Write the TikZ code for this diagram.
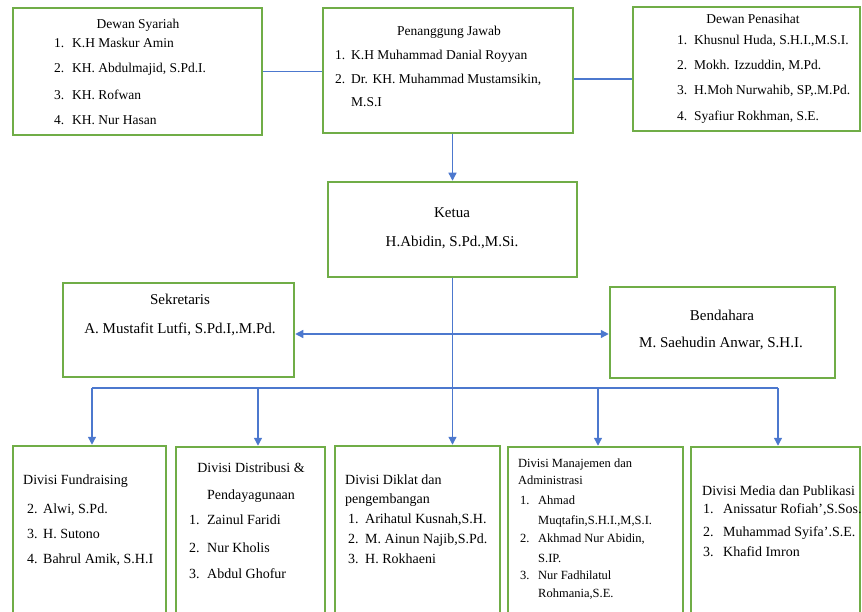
\documentclass[tikz,border=0pt]{standalone}
\usepackage{fontspec}
\setmainfont{Liberation Serif}
\usetikzlibrary{arrows.meta}
\definecolor{boxgreen}{RGB}{112,173,71}
\definecolor{lineblue}{RGB}{76,120,206}
\tikzstyle{box}=[draw=boxgreen, line width=2.5pt, inner sep=0pt]
\tikzstyle{conn}=[draw=lineblue, line width=1.3pt]
\tikzstyle{arr}=[conn, -{Triangle[length=8pt,width=8pt]}]
\tikzstyle{txt}=[inner sep=0pt, anchor=base west, font=\fontsize{14}{17}\selectfont]
\tikzstyle{toptxt}=[txt, font=\fontsize{13.5}{16}\selectfont]
\tikzstyle{bigtxt}=[txt, anchor=base, font=\fontsize{15}{18}\selectfont]
\tikzstyle{smalltxt}=[txt, font=\fontsize{12.5}{15}\selectfont]
\newcommand{\nitem}[3]{\makebox[#1][l]{#2}#3}

\begin{document}
\begin{tikzpicture}[x=1pt, y=-1pt]
            \useasboundingbox (0,0) rectangle (862,612);
            \clip (0,0) rectangle (862,612);

            \node[box, minimum width=249pt, minimum height=127pt] (syariah) at (137.5,71.5) {};
            \node[box, minimum width=250pt, minimum height=125pt] (pj) at (448,70.5) {};
            \node[box, minimum width=227pt, minimum height=124pt] (penasihat) at (746.5,69) {};
            \node[box, minimum width=249pt, minimum height=95pt] (ketua) at (452.5,229.5) {};
            \node[box, minimum width=231pt, minimum height=94pt] (sekretaris) at (178.5,330) {};
            \node[box, minimum width=225pt, minimum height=91pt] (bendahara) at (722.5,332.5) {};
            \node[box, minimum width=153pt, minimum height=179pt] (fundraising) at (89.5,535.5) {};
            \node[box, minimum width=149pt, minimum height=178pt] (distribusi) at (250.5,536) {};
            \node[box, minimum width=165pt, minimum height=179pt] (diklat) at (417.5,535.5) {};
            \node[box, minimum width=175pt, minimum height=178pt] (manajemen) at (595.5,536) {};
            \node[box, minimum width=169pt, minimum height=178pt] (media) at (775.5,536) {};

            \node[toptxt, anchor=base] (sy0) at (138,29) {Dewan Syariah};
            \node[toptxt] (sy1) at (54,48) {\nitem{18pt}{1.}{K.H Maskur Amin}};
            \node[toptxt] (sy2) at (54,73) {\nitem{18pt}{2.}{KH. Abdulmajid, S.Pd.I.}};
            \node[toptxt] (sy3) at (54,100) {\nitem{18pt}{3.}{KH. Rofwan}};
            \node[toptxt] (sy4) at (54,125) {\nitem{18pt}{4.}{KH. Nur Hasan}};

            \node[toptxt, anchor=base] (pj0) at (449,36) {Penanggung Jawab};
            \node[toptxt] (pj1) at (335,60) {\nitem{16pt}{1.}{K.H Muhammad Danial Royyan}};
            \node[toptxt] (pj2) at (335,84) {\nitem{16pt}{2.}{Dr. KH. Muhammad Mustamsikin,}};
            \node[toptxt] (pj3) at (351,107) {M.S.I};

            \node[toptxt, anchor=base] (pn0) at (753,24) {Dewan Penasihat};
            \node[toptxt] (pn1) at (677,45) {\nitem{17pt}{1.}{Khusnul Huda, S.H.I.,M.S.I.}};
            \node[toptxt] (pn2) at (677,70) {\nitem{17pt}{2.}{Mokh. Izzuddin, M.Pd.}};
            \node[toptxt] (pn3) at (677,95) {\nitem{17pt}{3.}{H.Moh Nurwahib, SP,.M.Pd.}};
            \node[toptxt] (pn4) at (677,121) {\nitem{17pt}{4.}{Syafiur Rokhman, S.E.}};

            \node[bigtxt] (kt0) at (452,218) {Ketua};
            \node[bigtxt] (kt1) at (452,247) {H.Abidin, S.Pd.,M.Si.};

            \node[bigtxt] (sk0) at (180,305) {Sekretaris};
            \node[bigtxt] (sk1) at (180,334) {A. Mustafit Lutfi, S.Pd.I,.M.Pd.};

            \node[bigtxt] (bd0) at (722,320) {Bendahara};
            \node[bigtxt] (bd1) at (721,348) {M. Saehudin Anwar, S.H.I.};

            \node[txt] (fr0) at (23,484) {Divisi Fundraising};
            \node[txt] (fr1) at (27,513) {\nitem{16pt}{2.}{Alwi, S.Pd.}};
            \node[txt] (fr2) at (27,538) {\nitem{16pt}{3.}{H. Sutono}};
            \node[txt] (fr3) at (27,563) {\nitem{16pt}{4.}{Bahrul Amik, S.H.I}};

            \node[txt, anchor=base] (ds0) at (251,472) {Divisi Distribusi \&};
            \node[txt, anchor=base] (ds1) at (251,499) {Pendayagunaan};
            \node[txt] (ds2) at (189,524) {\nitem{18pt}{1.}{Zainul Faridi}};
            \node[txt] (ds3) at (189,552) {\nitem{18pt}{2.}{Nur Kholis}};
            \node[txt] (ds4) at (189,578) {\nitem{18pt}{3.}{Abdul Ghofur}};

            \node[txt] (dk0) at (345,484) {Divisi Diklat dan};
            \node[txt] (dk1) at (345,503) {pengembangan};
            \node[txt] (dk2) at (348,523) {\nitem{17pt}{1.}{Arihatul Kusnah,S.H.}};
            \node[txt] (dk3) at (348,543) {\nitem{17pt}{2.}{M. Ainun Najib,S.Pd.}};
            \node[txt] (dk4) at (348,563) {\nitem{17pt}{3.}{H. Rokhaeni}};

            \node[smalltxt] (mj0) at (518,467) {Divisi Manajemen dan};
            \node[smalltxt] (mj1) at (518,484) {Administrasi};
            \node[smalltxt] (mj2) at (520,504) {\nitem{18pt}{1.}{Ahmad}};
            \node[smalltxt] (mj3) at (538,524) {Muqtafin,S.H.I.,M,S.I.};
            \node[smalltxt] (mj4) at (520,542) {\nitem{18pt}{2.}{Akhmad Nur Abidin,}};
            \node[smalltxt] (mj5) at (538,562) {S.IP.};
            \node[smalltxt] (mj6) at (520,579) {\nitem{18pt}{3.}{Nur Fadhilatul}};
            \node[smalltxt] (mj7) at (538,597) {Rohmania,S.E.};

            \node[txt] (md0) at (702,495) {Divisi Media dan Publikasi};
            \node[txt] (md1) at (703,513) {\nitem{20pt}{1.}{Anissatur Rofiah',S.Sos.}};
            \node[txt] (md2) at (703,536) {\nitem{20pt}{2.}{Muhammad Syifa'.S.E.}};
            \node[txt] (md3) at (703,556) {\nitem{20pt}{3.}{Khafid Imron}};

            \draw[conn] (syariah.east) -- (syariah.east -| pj.west);
            \coordinate (pjr) at ([yshift=-8.5pt]pj.east);
            \draw[conn] (pjr) -- (pjr -| penasihat.west);
            \draw[arr] (pj.south -| ketua.north) -- (ketua.north);
            \draw[arr] (ketua.south) -- (ketua.south |- diklat.north);

            \coordinate (kmid) at (452,334);
            \draw[arr] (kmid) -- (kmid -| sekretaris.east);
            \draw[arr] (kmid) -- (kmid -| bendahara.west);

            \coordinate (bus1) at (92,388);
            \coordinate (bus2) at (258,388);
            \coordinate (bus4) at (598,388);
            \coordinate (bus5) at (778,388);
            \draw[conn] (bus1) -- (bus5);
            \draw[arr] (bus1) -- (bus1 |- fundraising.north);
            \draw[arr] (bus2) -- (bus2 |- distribusi.north);
            \draw[arr] (bus4) -- (bus4 |- manajemen.north);
            \draw[arr] (bus5) -- (bus5 |- media.north);
        \end{tikzpicture}
\end{document}
